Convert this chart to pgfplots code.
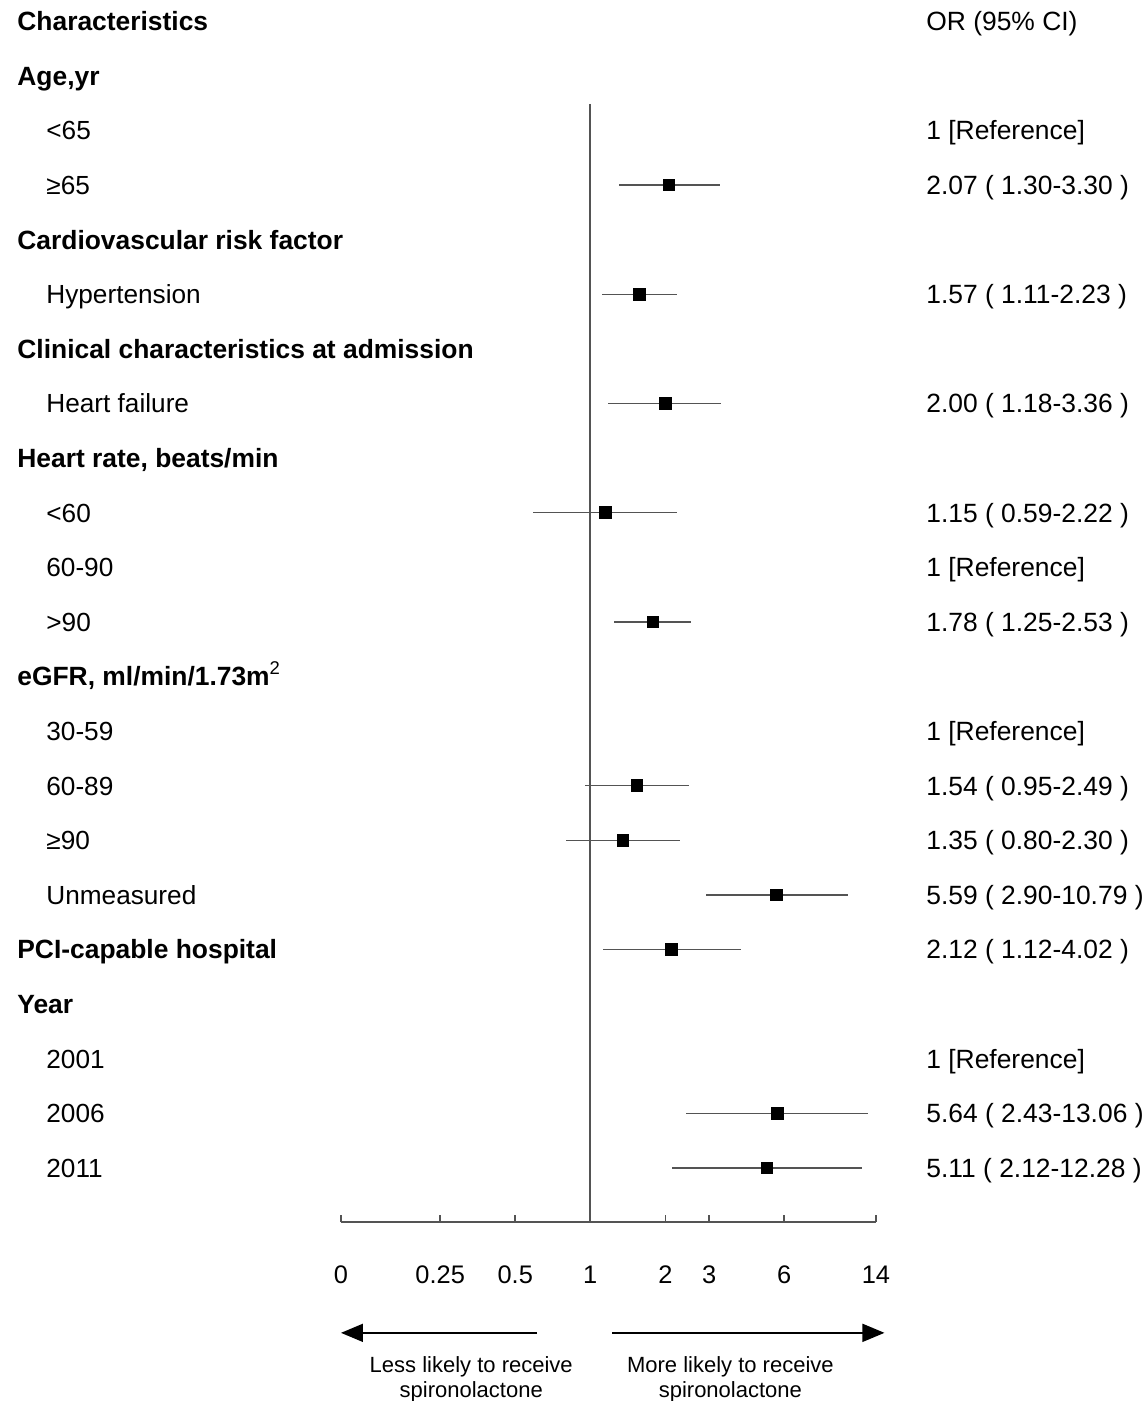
\documentclass[border=0pt]{standalone}
\usepackage{pgfplots}
\usepackage{pgfplotstable}
\pgfplotsset{compat=1.18}
\usepackage{fontspec}
\setmainfont{Liberation Sans}
\usetikzlibrary{arrows.meta}

\pgfplotstableread{
r or lo hi
3 2.07 1.30 3.30
5 1.57 1.11 2.23
7 2.00 1.18 3.36
9 1.15 0.59 2.22
11 1.78 1.25 2.53
14 1.54 0.95 2.49
15 1.35 0.80 2.30
16 5.59 2.90 10.79
17 2.12 1.12 4.02
20 5.64 2.43 13.06
21 5.11 2.12 12.28
}\ortable

\definecolor{lngray}{gray}{0.33}

\tikzset{
  hdr/.style={anchor=base west, inner sep=0pt, font=\fontsize{13.2}{15}\selectfont\bfseries, xshift=-162pt, yshift=-4.7pt},
  itm/.style={anchor=base west, inner sep=0pt, font=\fontsize{13.1}{15}\selectfont, xshift=-147.5pt, yshift=-4.7pt},
  rgt/.style={anchor=base west, inner sep=0pt, font=\fontsize{13.2}{15}\selectfont, xshift=292.5pt, yshift=-4.7pt},
}

\begin{document}
\begin{tikzpicture}
\begin{axis}[
  scale only axis,
  width=267.5pt, height=611pt,
  xmode=log,
  xmin=0.1, xmax=14,
  ymin=-21.99, ymax=0.388,
  axis x line*=bottom,
  axis y line=none,
  axis line style={lngray, line width=0.8pt, -},
  xtick={0.1,0.25,0.5,1,2,3,6,14},
  xticklabels={0,0.25,0.5,1,2,3,6,14},
  minor xtick={},
  log ticks with fixed point,
  tick align=inside,
  major tick length=3.5pt,
  tick style={lngray, line width=0.8pt},
  xticklabel style={anchor=base, inner sep=0pt, yshift=-30.5pt, font=\fontsize{12.7}{14}\selectfont},
  clip=false,
]
% reference line at OR = 1
\addplot[lngray, line width=0.8pt] coordinates {(1,-1.516) (1,-21.99)};
% confidence intervals and point estimates
\addplot[only marks, mark=square*, mark size=2.9pt, mark options={fill=black, draw=black},
  error bars/.cd, x dir=both, x explicit, error mark=none,
  error bar style={lngray, line width=0.7pt}]
  table[x=or, y expr=-\thisrow{r},
        x error plus expr=\thisrow{hi}-\thisrow{or},
        x error minus expr=\thisrow{or}-\thisrow{lo}] {\ortable};

\coordinate (BL) at (rel axis cs:0,0);
\coordinate (TR) at (rel axis cs:1,1);

% left column
\node[hdr] at (axis cs:0.1,0) {Characteristics};
\node[hdr] at (axis cs:0.1,-1) {Age,yr};
\node[itm] at (axis cs:0.1,-2) {<65};
\node[itm] at (axis cs:0.1,-3) {≥65};
\node[hdr] at (axis cs:0.1,-4) {Cardiovascular risk factor};
\node[itm] at (axis cs:0.1,-5) {Hypertension};
\node[hdr] at (axis cs:0.1,-6) {Clinical characteristics at admission};
\node[itm] at (axis cs:0.1,-7) {Heart failure};
\node[hdr] at (axis cs:0.1,-8) {Heart rate, beats/min};
\node[itm] at (axis cs:0.1,-9) {<60};
\node[itm] at (axis cs:0.1,-10) {60-90};
\node[itm] at (axis cs:0.1,-11) {>90};
\node[hdr] at (axis cs:0.1,-12) {eGFR, ml/min/1.73m\raisebox{1.5pt}{\textsuperscript{\mdseries 2}}};
\node[itm] at (axis cs:0.1,-13) {30-59};
\node[itm] at (axis cs:0.1,-14) {60-89};
\node[itm] at (axis cs:0.1,-15) {≥90};
\node[itm] at (axis cs:0.1,-16) {Unmeasured};
\node[hdr] at (axis cs:0.1,-17) {PCI-capable hospital};
\node[hdr] at (axis cs:0.1,-18) {Year};
\node[itm] at (axis cs:0.1,-19) {2001};
\node[itm] at (axis cs:0.1,-20) {2006};
\node[itm] at (axis cs:0.1,-21) {2011};

% right column
\node[rgt] at (axis cs:0.1,0) {OR (95\% CI)};
\node[rgt] at (axis cs:0.1,-2) {1 [Reference]};
\node[rgt] at (axis cs:0.1,-3) {2.07 ( 1.30-3.30 )};
\node[rgt] at (axis cs:0.1,-5) {1.57 ( 1.11-2.23 )};
\node[rgt] at (axis cs:0.1,-7) {2.00 ( 1.18-3.36 )};
\node[rgt] at (axis cs:0.1,-9) {1.15 ( 0.59-2.22 )};
\node[rgt] at (axis cs:0.1,-10) {1 [Reference]};
\node[rgt] at (axis cs:0.1,-11) {1.78 ( 1.25-2.53 )};
\node[rgt] at (axis cs:0.1,-13) {1 [Reference]};
\node[rgt] at (axis cs:0.1,-14) {1.54 ( 0.95-2.49 )};
\node[rgt] at (axis cs:0.1,-15) {1.35 ( 0.80-2.30 )};
\node[rgt] at (axis cs:0.1,-16) {5.59 ( 2.90-10.79 )};
\node[rgt] at (axis cs:0.1,-17) {2.12 ( 1.12-4.02 )};
\node[rgt] at (axis cs:0.1,-19) {1 [Reference]};
\node[rgt] at (axis cs:0.1,-20) {5.64 ( 2.43-13.06 )};
\node[rgt] at (axis cs:0.1,-21) {5.11 ( 2.12-12.28 )};

% direction arrows
\draw[black, line width=0.8pt, -{Triangle[length=11pt, width=9pt]}] (axis cs:0.6126,-24.02) -- (axis cs:0.1,-24.02);
\draw[black, line width=0.8pt, -{Triangle[length=11pt, width=9pt]}] (axis cs:1.2254,-24.02) -- (axis cs:15.14,-24.02);
\node[align=center, font=\fontsize{11}{12.5}\selectfont, inner sep=0pt] at (axis cs:0.333,-24.87) {Less likely to receive\\spironolactone};
\node[align=center, font=\fontsize{11}{12.5}\selectfont, inner sep=0pt] at (axis cs:3.647,-24.87) {More likely to receive\\spironolactone};
\end{axis}
\pgfresetboundingbox
\path ([shift={(-170.5pt,-89.5pt)}]BL) rectangle ([shift={(135.5pt,0pt)}]TR);
\end{tikzpicture}
\end{document}
